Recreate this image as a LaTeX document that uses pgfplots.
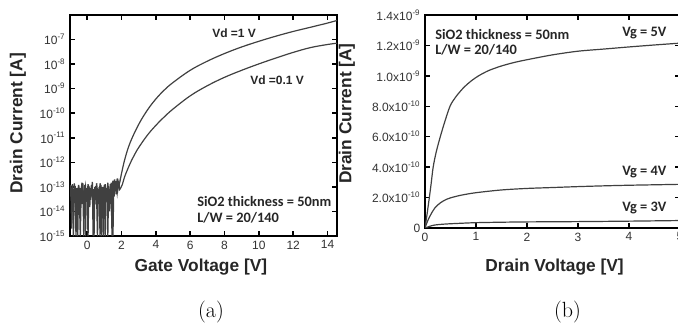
\documentclass[border=0pt]{standalone}
\usepackage{pgfplots}
\pgfplotsset{compat=1.18}
\usepackage{fontspec}
\newfontfamily\arial{Liberation Sans}
\newfontfamily\calibri{Carlito}
\definecolor{crv}{HTML}{404040}
\definecolor{tk}{HTML}{333333}
\begin{document}
\begin{tikzpicture}
\pgfplotsset{
  common/.style={
    scale only axis,
    anchor=south west,
    axis line style={line width=1.3pt,black},
    tick align=inside,
    major tick length=3.5pt,
    tick style={line width=1.1pt,black},
    minor tick num=0,
    /pgf/number format/assume math mode=true,
    ticklabel style={font=\arial\fontsize{9}{10}\selectfont,text=tk},
    label style={font=\arial\bfseries\fontsize{13}{15}\selectfont,text=black!85},
  }
}
% ---------- (a) transfer ----------
\begin{axis}[common,
  at={(52.5pt,66pt)}, width=200.25pt, height=165.75pt,
  ymode=log, xmin=-1, xmax=14.55, ymin=1e-15, ymax=1e-6,
  xtick={0,2,4,6,8,10,12,14},
  ytick={1e-15,1e-14,1e-13,1e-12,1e-11,1e-10,1e-9,1e-8,1e-7},
  yticklabels={10\textsuperscript{-15},10\textsuperscript{-14},10\textsuperscript{-13},10\textsuperscript{-12},10\textsuperscript{-11},10\textsuperscript{-10},10\textsuperscript{-9},10\textsuperscript{-8},10\textsuperscript{-7}},
  yminorticks=false,
  xlabel={Gate Voltage [V]}, ylabel={Drain Current [A]},
  xlabel style={at={(axis description cs:0.49,-0.14)},anchor=center},
  ylabel style={at={(axis description cs:-0.195,0.51)},anchor=center},
]
% Vd = 1 V : noise floor
\addplot[crv, line width=1pt] coordinates {
(-1.00,6e-14)(-0.95,1.2e-13)(-0.90,2e-15)(-0.85,8e-14)(-0.80,3e-14)(-0.75,1.4e-13)(-0.70,5e-14)(-0.65,1e-15)(-0.60,9e-14)(-0.55,2.5e-14)
(-0.50,1.1e-13)(-0.45,4e-14)(-0.40,1e-15)(-0.35,7e-14)(-0.30,1.5e-13)(-0.25,2e-14)(-0.20,6e-14)(-0.15,1.2e-13)(-0.10,1e-15)(-0.05,8e-14)
(0.00,3e-14)(0.05,1.3e-13)(0.10,5e-14)(0.15,1.5e-14)(0.20,9e-14)(0.25,4e-14)(0.30,1.6e-13)(0.35,1e-15)(0.40,7e-14)(0.45,2e-14)
(0.50,1.1e-13)(0.55,5e-14)(0.60,1e-15)(0.65,8e-14)(0.70,3e-14)(0.75,1.4e-13)(0.80,6e-14)(0.85,1e-15)(0.90,1e-13)(0.95,3.5e-14)
(1.00,1.2e-13)(1.05,1e-15)(1.10,7e-14)(1.15,2.5e-14)(1.20,1.5e-13)(1.25,5e-14)(1.30,1e-14)(1.35,1.3e-13)(1.40,6e-14)(1.45,1e-15)
(1.50,1.8e-13)(1.55,4e-14)(1.60,2e-13)(1.65,7e-14)(1.70,1.5e-13)(1.75,6e-14)(1.80,1.2e-13)(1.85,1.1e-13)};
% Vd = 1 V : on-state
\addplot[crv, line width=0.9pt, smooth, tension=0.6] coordinates {
(1.85,1.1e-13)(1.92,1.8e-13)(2.0,3.5e-13)(2.2,1.4e-12)(2.5,6.3e-12)(3,3.5e-11)(3.5,1.32e-10)(4,3.8e-10)(4.5,8.9e-10)
(5,1.78e-9)(6,5.6e-9)(7,1.32e-8)(8,2.7e-8)(9,5e-8)(10,8.5e-8)(11,1.38e-7)(12,2.14e-7)(13,3.16e-7)(14,4.7e-7)(14.55,6e-7)};
% Vd = 0.1 V : noise floor
\addplot[crv, line width=1pt] coordinates {
(-1.00,4e-14)(-0.95,9e-14)(-0.90,3e-14)(-0.85,1.3e-13)(-0.80,1e-15)(-0.75,6e-14)(-0.70,1.1e-13)(-0.65,3e-14)(-0.60,7e-14)(-0.55,1e-15)
(-0.50,1.2e-13)(-0.45,5e-14)(-0.40,9e-14)(-0.35,2e-14)(-0.30,8e-14)(-0.25,1.4e-13)(-0.20,1e-15)(-0.15,6e-14)(-0.10,1e-13)(-0.05,2.5e-14)
(0.00,9e-14)(0.05,1e-15)(0.10,1.1e-13)(0.15,6e-14)(0.20,3e-14)(0.25,1.2e-13)(0.30,5e-14)(0.35,8e-14)(0.40,1e-15)(0.45,1e-13)
(0.50,3e-14)(0.55,1.4e-13)(0.60,6e-14)(0.65,2e-14)(0.70,1e-13)(0.75,1e-15)(0.80,1.2e-13)(0.85,5e-14)(0.90,8e-14)(0.95,1e-15)
(1.00,6e-14)(1.05,1.3e-13)(1.10,4e-14)(1.15,9e-14)(1.20,1e-15)(1.25,1.1e-13)(1.30,6e-14)(1.35,2e-14)(1.40,1.5e-13)(1.45,5e-14)
(1.50,1e-15)(1.55,1.2e-13)(1.60,7e-14)(1.65,1.7e-13)(1.70,5e-14)(1.75,2.2e-13)(1.80,9e-14)(1.85,1.5e-13)(1.9,8e-14)(1.95,9e-14)};
% Vd = 0.1 V : on-state
\addplot[crv, line width=0.9pt, smooth, tension=0.6] coordinates {
(1.95,9e-14)(2.05,1.26e-13)(2.2,2.8e-13)(2.5,8.9e-13)(2.75,2e-12)(3,4e-12)(3.5,1.26e-11)(4,3.2e-11)(4.5,7.2e-11)
(5,1.48e-10)(6,5.1e-10)(7,1.32e-9)(8,2.9e-9)(9,5.6e-9)(10,1.02e-8)(11,1.78e-8)(12,3e-8)(13,4.7e-8)(14,6.3e-8)(14.55,7.1e-8)};
\end{axis}
% ---------- (b) output ----------
\begin{axis}[common,
  at={(318.75pt,72pt)}, width=191.25pt, height=159.75pt,
  xmin=0, xmax=5, ymin=0, ymax=1.4,
  xtick={0,1,2,3,4,5},
  ytick={0,0.2,0.4,0.6,0.8,1.0,1.2,1.4},
  yticklabels={0,2.0x10\textsuperscript{-10},4.0x10\textsuperscript{-10},6.0x10\textsuperscript{-10},8.0x10\textsuperscript{-10},1.0x10\textsuperscript{-9},1.2x10\textsuperscript{-9},1.4x10\textsuperscript{-9}},
  xlabel={Drain Voltage [V]}, ylabel={Drain Current [A]},
  xlabel style={at={(axis description cs:0.508,-0.183)},anchor=center},
  ylabel style={at={(axis description cs:-0.306,0.537)},anchor=center},
]
\addplot[crv, line width=0.9pt, smooth, tension=0.5] coordinates {
(0,0)(0.04,0.09)(0.085,0.2)(0.12,0.29)(0.16,0.4)(0.22,0.5)(0.3,0.6)(0.38,0.69)(0.49,0.8)(0.6,0.86)(0.75,0.92)(0.9,0.965)(1.05,1.0)(1.25,1.035)(1.5,1.065)(1.75,1.088)(2,1.106)(2.5,1.138)(3,1.162)(3.5,1.176)(4,1.19)(4.5,1.203)(5,1.215)};
\addplot[crv, line width=0.9pt, smooth, tension=0.5] coordinates {
(0,0)(0.05,0.045)(0.1,0.08)(0.15,0.11)(0.2,0.135)(0.3,0.165)(0.4,0.185)(0.5,0.198)(0.7,0.215)(1,0.232)(1.5,0.25)(2,0.26)(2.5,0.266)(3,0.272)(3.5,0.277)(4,0.281)(4.5,0.284)(5,0.287)};
\addplot[crv, line width=0.9pt, smooth, tension=0.5] coordinates {
(0,0)(0.1,0.012)(0.2,0.02)(0.4,0.026)(0.7,0.031)(1,0.035)(1.5,0.038)(2,0.04)(3,0.042)(4,0.045)(5,0.049)};
\end{axis}
% ---------- annotations ----------
\begin{scope}[every node/.style={inner sep=0pt,anchor=west,text=black!85}]
\node[font=\arial\bfseries\fontsize{9}{10}\selectfont] at (159pt,218.25pt) {Vd =1 V};
\node[font=\arial\bfseries\fontsize{9}{10}\selectfont] at (187.5pt,183pt) {Vd =0.1 V};
\node[font=\calibri\bfseries\fontsize{10.8}{12}\selectfont] at (147.75pt,92pt) {SiO2 thickness = 50nm};
\node[font=\calibri\bfseries\fontsize{10.8}{12}\selectfont] at (147.75pt,79.5pt) {L/W = 20/140};
\node[font=\calibri\bfseries\fontsize{10.8}{12}\selectfont] at (326.25pt,217pt) {SiO2 thickness = 50nm};
\node[font=\calibri\bfseries\fontsize{10.8}{12}\selectfont] at (326.25pt,205.5pt) {L/W = 20/140};
\node[font=\calibri\bfseries\fontsize{10.8}{12}\selectfont] at (466.5pt,218.25pt) {Vg = 5V};
\node[font=\calibri\bfseries\fontsize{10.8}{12}\selectfont] at (466.5pt,114pt) {Vg = 4V};
\node[font=\calibri\bfseries\fontsize{10.8}{12}\selectfont] at (466.5pt,87pt) {Vg = 3V};
\end{scope}
\node[anchor=base,inner sep=0pt,font=\fontsize{16.5}{18}\selectfont] at (158.25pt,4.9pt) {(a)};
\node[anchor=base,inner sep=0pt,font=\fontsize{16.5}{18}\selectfont] at (425.6pt,4.9pt) {(b)};
\pgfresetboundingbox
\useasboundingbox (0,0) rectangle (508.5pt,243pt);
\end{tikzpicture}
\end{document}
